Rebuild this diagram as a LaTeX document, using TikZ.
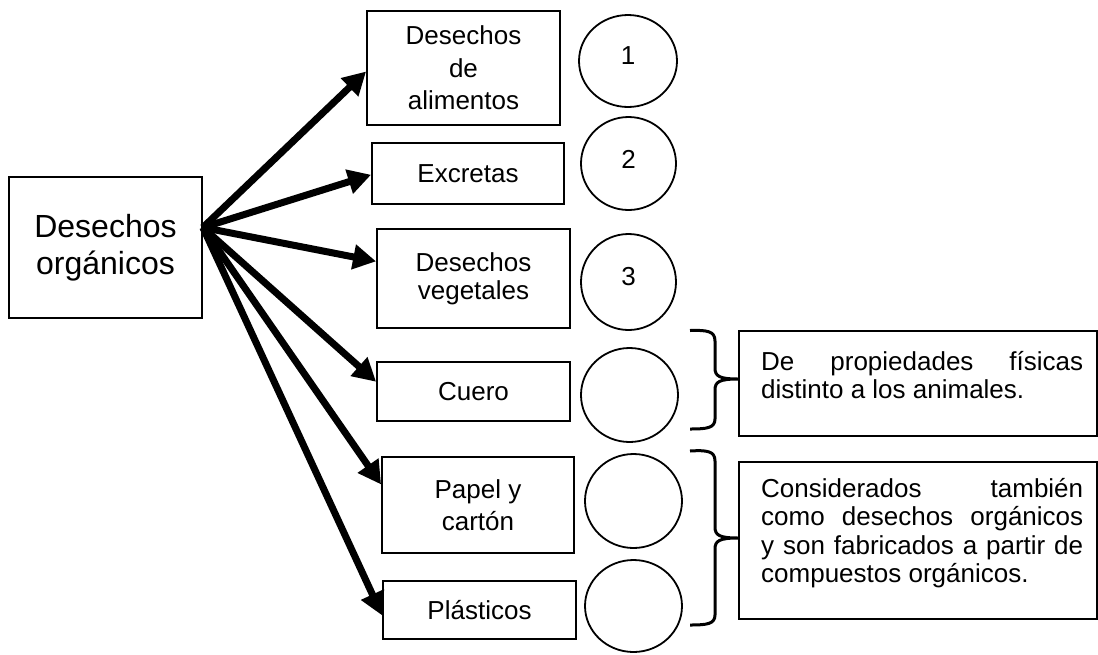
\documentclass[tikz,border=0pt]{standalone}
\usepackage{fontspec}
\setmainfont{Liberation Sans}
\usetikzlibrary{arrows.meta,shapes.geometric,calc}
\begin{document}
\begin{tikzpicture}[x=1pt,y=-1pt,
  box/.style={draw,line width=1.8pt,rectangle,inner sep=0pt,align=center,font=\fontsize{26}{31}\selectfont},
  mainbox/.style={box,font=\fontsize{32}{37}\selectfont},
  circ/.style={draw,line width=1.8pt,ellipse,inner sep=0pt},
  num/.style={inner sep=0pt,font=\fontsize{26}{30}\selectfont},
  conn/.style={line width=7pt,-{Triangle[length=23pt,width=24pt]}},
  brc/.style={line width=3pt,line join=round},
  tbox/.style={draw,line width=1.8pt,rectangle,inner sep=0pt,minimum width=358pt},
  ptext/.style={inner sep=0pt,text width=322pt,align=justify,font=\fontsize{26}{28.5}\selectfont}
]
\useasboundingbox (0,0) rectangle (1098,654);

% main box
\node[mainbox,minimum width=193pt,minimum height=141pt] (main) at (105.5,247.5) {Desechos\\orgánicos};
\coordinate (src) at ($(main.north east)!0.36!(main.south east)$);

% category boxes
\node[box,minimum width=193pt,minimum height=114pt,font=\fontsize{26}{32.5}\selectfont] (b1) at (463.5,68) {Desechos\\de\\alimentos};
\node[box,minimum width=192pt,minimum height=61pt] (b2) at (468,173.5) {Excretas};
\node[box,minimum width=193pt,minimum height=99pt,font=\fontsize{26}{28}\selectfont] (b3) at (473.5,278.5) {Desechos\\vegetales};
\node[box,minimum width=193pt,minimum height=59pt] (b4) at (473.5,391.5) {Cuero};
\node[box,minimum width=192pt,minimum height=96pt,font=\fontsize{26}{32}\selectfont] (b5) at (478,505) {Papel y\\cartón};
\node[box,minimum width=193pt,minimum height=58pt] (b6) at (479.5,610) {Plásticos};

% circles
\node[circ,minimum width=98pt,minimum height=92pt] (c1) at (628,61) {};
\node[circ,minimum width=95pt,minimum height=93pt] (c2) at (628.5,163.5) {};
\node[circ,minimum width=95pt,minimum height=96pt] (c3) at (628.5,282) {};
\node[circ,minimum width=97pt,minimum height=94pt] (c4) at (629.5,395) {};
\node[circ,minimum width=97pt,minimum height=94pt] (c5) at (633.5,501) {};
\node[circ,minimum width=97pt,minimum height=92pt] (c6) at (633.5,606) {};
\node[num] (n1) at (628,56) {1};
\node[num] (n2) at (628.5,159) {2};
\node[num] (n3) at (628.5,276.5) {3};

% connectors
\draw[conn] (src) -- ($(b1.north west)!0.53!(b1.south west)$);
\draw[conn] (src) -- ($(b2.north west)!0.52!(b2.south west)$);
\draw[conn] (src) -- ($(b3.north west)!0.33!(b3.south west)$);
\draw[conn] (src) -- ($(b4.north west)!0.34!(b4.south west)$);
\draw[conn] (src) -- ($(b5.north west)!0.29!(b5.south west)$);
\draw[conn] (src) -- ($(b6.north west)!0.59!(b6.south west)$);

% text boxes
\node[tbox,minimum height=105pt] (t1) at (918,383.5) {};
\node[tbox,minimum height=157pt] (t2) at (918,540.5) {};
\node[ptext,anchor=north west] (t1x) at (761,351) {De propiedades físicas\linebreak distinto a los animales.};
\node[ptext,anchor=north west] (t2x) at (761,478) {Considerados también\linebreak como desechos orgánicos\linebreak y son fabricados a partir de\linebreak compuestos orgánicos.};

% braces
\draw[brc] (690,330.5) .. controls (707,330) and (715,331) .. (715,341) -- (715,368)
  .. controls (715,376) and (719,379) .. (t1.west |- 0,379)
  .. controls (719,379) and (715,382) .. (715,390) -- (715,419)
  .. controls (715,428) and (707,429) .. (690,429);
\draw[brc] (690,451) .. controls (707,450) and (715,451) .. (715,461) -- (715,527)
  .. controls (715,535) and (719,538) .. (t2.west |- 0,538)
  .. controls (719,538) and (715,541) .. (715,549) -- (715,615)
  .. controls (715,624) and (707,625) .. (690,625);
\end{tikzpicture}
\end{document}
